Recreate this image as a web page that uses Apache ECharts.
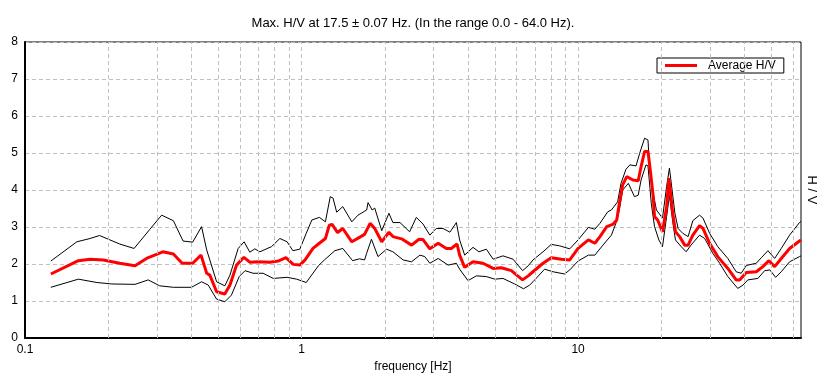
<!DOCTYPE html>
<html><head><meta charset="utf-8">
<script src="https://cdn.jsdelivr.net/npm/echarts@6/dist/echarts.min.js"></script>
<style>html,body{margin:0;padding:0;background:#fff}#c{width:826px;height:381px}</style>
</head><body><div id="c"></div>
<script>
// ---- data ----
const avgFreq = [0.124,0.156,0.172,0.192,0.22,0.25,0.275,0.315,0.344,0.37,0.404,0.433,0.454,0.466,0.493,0.528,0.551,0.582,0.619,0.65,0.697,0.768,0.823,0.878,0.933,0.986,1.03,1.10,1.16,1.22,1.26,1.29,1.35,1.41,1.52,1.62,1.69,1.77,1.84,1.95,2.07,2.14,2.30,2.50,2.66,2.75,2.91,3.12,3.34,3.48,3.65,3.73,3.89,4.17,4.53,4.93,5.28,5.74,6.0,6.3,6.6,6.87,7.47,8.0,8.7,9.33,10.0,10.9,11.5,12.0,12.7,13.4,13.8,14.1,14.5,15.0,15.8,16.5,16.9,17.4,17.9,18.3,18.7,18.9,19.4,20.2,20.9,21.3,21.6,22.0,22.5,23.3,24.3,25.0,26.0,27.5,28.3,29.9,32.0,34.8,37.3,38.4,40.6,44.1,46.6,49.0,51.4,54.3,58.2,63.2,64];
const avgHV   = [1.73,2.09,2.13,2.11,2.02,1.95,2.15,2.33,2.27,2.02,2.02,2.24,1.75,1.70,1.25,1.19,1.43,1.97,2.18,2.05,2.06,2.05,2.08,2.17,1.99,1.97,2.11,2.42,2.56,2.69,3.05,3.07,2.85,2.96,2.60,2.72,2.80,3.10,2.96,2.60,2.86,2.74,2.68,2.51,2.67,2.66,2.41,2.56,2.42,2.42,2.54,2.24,1.91,2.06,2.02,1.88,1.90,1.82,1.70,1.57,1.68,1.79,2.02,2.17,2.13,2.11,2.42,2.65,2.56,2.74,3.01,3.08,3.19,3.64,4.14,4.36,4.27,4.25,4.63,5.04,5.04,4.45,3.82,3.28,3.19,2.87,3.55,4.32,4.33,3.37,2.87,2.74,2.51,2.51,2.78,3.04,2.96,2.56,2.20,1.88,1.57,1.57,1.77,1.79,1.93,2.09,1.93,2.15,2.42,2.62,2.65];

const upFreq = [0.124,0.154,0.172,0.186,0.22,0.248,0.283,0.312,0.344,0.373,0.404,0.435,0.454,0.493,0.528,0.551,0.590,0.62,0.65,0.678,0.707,0.779,0.835,0.887,0.93,0.986,1.04,1.09,1.16,1.22,1.27,1.30,1.34,1.41,1.52,1.60,1.72,1.74,1.80,1.84,1.95,2.07,2.14,2.27,2.46,2.60,2.75,2.91,3.07,3.25,3.44,3.63,3.73,3.89,4.17,4.38,4.66,4.93,5.35,5.82,6.3,6.6,6.87,7.47,8.0,8.58,9.33,10.0,10.9,11.5,12.0,12.8,13.2,13.9,14.3,14.9,15.4,16.2,16.7,17.4,17.9,18.1,18.6,19.2,20.2,20.9,21.4,22.4,23.0,23.9,25.0,26.0,27.5,28.3,29.9,32.0,34.8,37.3,38.9,40.6,44.1,46.0,48.6,51.4,54.3,58.2,63.2,64];
const upHV   = [2.08,2.60,2.69,2.77,2.54,2.42,2.94,3.32,3.17,2.62,2.59,3.01,2.38,1.52,1.41,1.70,2.42,2.60,2.32,2.41,2.33,2.47,2.69,2.60,2.36,2.40,2.83,3.19,3.26,3.14,3.82,3.78,3.40,3.55,3.14,3.32,3.46,3.66,3.46,3.51,2.90,3.37,3.12,3.12,2.87,3.26,3.08,2.78,2.96,2.96,2.86,3.12,2.65,2.24,2.45,2.33,2.40,2.13,2.22,2.13,1.82,1.95,2.11,2.33,2.53,2.49,2.41,2.65,2.99,2.94,3.10,3.41,3.46,3.68,4.18,4.56,4.68,4.65,4.99,5.40,5.35,4.72,4.00,3.46,3.24,4.09,4.59,3.37,2.96,2.83,2.74,3.17,3.32,3.24,2.83,2.47,2.15,1.79,1.75,1.96,2.02,2.17,2.36,2.15,2.42,2.78,3.12,3.15];

const loFreq = [0.124,0.156,0.182,0.206,0.25,0.279,0.307,0.344,0.40,0.435,0.46,0.493,0.528,0.558,0.595,0.625,0.668,0.726,0.79,0.887,0.96,1.04,1.15,1.21,1.32,1.41,1.53,1.62,1.69,1.72,1.79,1.89,2.03,2.14,2.33,2.50,2.68,2.79,2.91,3.12,3.39,3.63,3.73,4.0,4.29,4.66,5.0,5.35,5.9,6.35,6.68,6.87,7.57,8.12,8.94,9.33,10.0,10.9,11.5,12.3,13.2,13.7,14.1,14.5,15.2,16.0,16.5,16.9,17.6,17.9,18.4,18.9,19.6,20.2,20.9,21.4,22.0,22.5,23.6,24.6,25.6,27.5,28.7,30.7,32.5,34.8,37.8,39.5,41.1,44.7,47.3,49.4,51.8,54.3,58.2,63.2,64];
const loHV   = [1.37,1.59,1.50,1.46,1.45,1.57,1.41,1.37,1.37,1.52,1.43,1.05,0.98,1.16,1.66,1.82,1.75,1.75,1.61,1.64,1.59,1.50,1.95,2.11,2.36,2.42,2.09,2.14,2.11,2.29,2.67,2.20,2.40,2.33,2.11,2.06,2.24,2.20,2.02,2.15,1.97,2.02,1.86,1.55,1.68,1.66,1.59,1.61,1.46,1.33,1.43,1.52,1.86,1.79,1.73,1.84,2.08,2.24,2.24,2.51,2.78,3.10,3.46,4.00,4.18,3.82,3.86,4.27,4.68,4.65,3.64,3.01,2.65,2.47,3.28,3.85,3.14,2.65,2.47,2.33,2.51,2.78,2.69,2.29,2.02,1.66,1.34,1.43,1.57,1.61,1.82,1.84,1.64,1.79,2.06,2.20,2.22];

const gridFreqs = [0.2,0.3,0.4,0.5,0.6,0.7,0.8,0.9,1,2,3,4,5,6,7,8,9,10,20,30,40,50,60];
const titleText = 'Max. H/V at 17.5 \u00b1 0.07 Hz. (In the range 0.0 - 64.0 Hz).';

// ---- chart ----
const zip = (f, v) => f.map((x, i) => [x, v[i]]);
const FONT = 'Liberation Sans';
const chart = echarts.init(document.getElementById('c'), null, {renderer: 'canvas'});
chart.setOption({
  backgroundColor: '#fff',
  animation: false,
  textStyle: {fontFamily: FONT},
  title: {
    text: titleText, left: 'center', top: 12,
    textStyle: {fontFamily: FONT, fontSize: 13, fontWeight: 'normal', color: '#000'}
  },
  grid: {left: 25, right: 25, top: 42, bottom: 43, show: true, borderColor: '#000', borderWidth: 1, backgroundColor: 'transparent'},
  legend: {
    data: [{name: 'Average H/V', icon: 'rect'}], left: 657, top: 58,
    backgroundColor: '#fff', borderColor: '#000', borderWidth: 1, borderRadius: 0,
    padding: [1, 8, 1, 8], itemWidth: 32, itemHeight: 3,
    itemStyle: {color: '#ff0000'},
    textStyle: {fontFamily: FONT, fontSize: 12, color: '#000', padding: [0, 0, 0, 6], lineHeight: 13}
  },
  xAxis: {
    type: 'log', logBase: 10, min: 0.1, max: 64,
    name: 'frequency [Hz]', nameLocation: 'middle', nameGap: 20,
    nameTextStyle: {fontFamily: FONT, fontSize: 12, color: '#000'},
    axisLine: {lineStyle: {color: '#000', width: 2}},
    axisTick: {show: false},
    axisLabel: {color: '#000', fontSize: 12, fontFamily: FONT, margin: 6, showMaxLabel: false,
      formatter: v => String(+(+v).toPrecision(3))},
    splitLine: {show: false}
  },
  yAxis: {
    type: 'value', min: 0, max: 8, interval: 1,
    axisLine: {show: true, lineStyle: {color: '#000', width: 2}},
    axisTick: {show: false},
    axisLabel: {color: '#000', fontSize: 12, fontFamily: FONT, margin: 7},
    splitLine: {lineStyle: {color: '#c0c0c0', type: [4, 3], width: 1}}
  },
  graphic: [{
    type: 'text', x: 812, y: 190, rotation: -Math.PI / 2,
    style: {text: 'H / V', fontFamily: FONT, fontSize: 13, fill: '#000', textAlign: 'center', textVerticalAlign: 'middle'}
  }],
  series: [
    {
      type: 'line', name: 'grid', data: [], silent: true, z: 1,
      markLine: {
        silent: true, symbol: ['none', 'none'], label: {show: false},
        lineStyle: {color: '#c0c0c0', type: [4, 3], width: 1},
        emphasis: {disabled: true},
        data: gridFreqs.map(f => ({xAxis: f}))
      }
    },
    {type: 'line', name: 'Upper', data: zip(upFreq, upHV), showSymbol: false, symbol: 'none', z: 2,
      lineStyle: {color: '#000', width: 1}, itemStyle: {color: '#000'}},
    {type: 'line', name: 'Lower', data: zip(loFreq, loHV), showSymbol: false, symbol: 'none', z: 2,
      lineStyle: {color: '#000', width: 1}, itemStyle: {color: '#000'}},
    {type: 'line', name: 'Average H/V', data: zip(avgFreq, avgHV), showSymbol: false, symbol: 'none', z: 3,
      lineStyle: {color: '#ff0000', width: 3}, itemStyle: {color: '#ff0000'}}
  ]
});
</script></body></html>
